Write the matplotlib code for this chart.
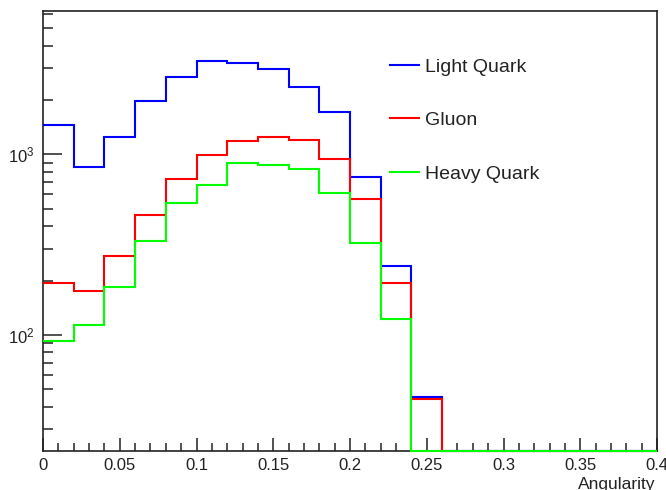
import numpy as np
import matplotlib
matplotlib.use("Agg")
import matplotlib.pyplot as plt
from matplotlib.ticker import FixedLocator, LogLocator, MultipleLocator, NullFormatter

plt.rcParams['font.family'] = ['Liberation Sans', 'DejaVu Sans']
plt.rcParams['mathtext.default'] = 'regular'

# Histogram binning (20 bins of width 0.02 from 0 to 0.4)
bin_edges = np.round(np.arange(0.0, 0.4001, 0.02), 2)

# Bin contents per jet flavour
light_quark = [1452, 854, 1242, 1972, 2687, 3281, 3198, 2979, 2366, 1707,
               747, 242, 45.2, 0, 0, 0, 0, 0, 0, 0]
gluon = [195, 175, 275, 459, 730, 987, 1185, 1242, 1200, 946,
         566, 193, 44, 0, 0, 0, 0, 0, 0, 0]
heavy_quark = [93, 114, 185, 333, 540, 676, 892, 869, 832, 608,
               321, 122, 0, 0, 0, 0, 0, 0, 0, 0]

series = [
    ("Light Quark", light_quark, "#0000ff"),
    ("Gluon", gluon, "#ff0000"),
    ("Heavy Quark", heavy_quark, "#00ff00"),
]

y_min, y_max = 22.8, 6210

fig = plt.figure(figsize=(6.66, 4.90), dpi=100)
ax = fig.add_axes([43 / 666, 1 - 451 / 490, (657 - 43) / 666, (451 - 11) / 490])
ax.set_yscale('log')
ax.set_xlim(0, 0.4)
ax.set_ylim(y_min, y_max)

for label, vals, color in series:
    vals = np.asarray(vals, dtype=float)
    # empty bins sit on the lower frame edge, as in a ROOT histogram
    shown = np.where(vals > 0, vals, y_min)
    ax.stairs(shown, bin_edges, baseline=None, color=color, lw=1.5,
              label=label, clip_on=False, zorder=3)

# x axis ticks
ax.xaxis.set_major_locator(MultipleLocator(0.05))
ax.xaxis.set_minor_locator(MultipleLocator(0.01))
ax.set_xticks(np.round(np.arange(0, 0.4001, 0.05), 2))
ax.set_xticklabels(["0", "0.05", "0.1", "0.15", "0.2", "0.25", "0.3", "0.35", "0.4"])

# y axis ticks
ax.yaxis.set_major_locator(FixedLocator([100, 1000]))
ax.yaxis.set_minor_locator(LogLocator(base=10, subs=np.arange(2, 10)))
ax.yaxis.set_minor_formatter(NullFormatter())
ax.set_yticks([100, 1000])
ax.set_yticklabels([r"$10^{2}$", r"$10^{3}$"])

ax.tick_params(axis='x', which='major', direction='in', length=9.5, width=1.1,
               labelsize=12, pad=5, top=False, colors='#222222')
ax.tick_params(axis='x', which='minor', direction='in', length=5.5, width=1.1, top=False,
               colors='#222222')
ax.tick_params(axis='y', which='major', direction='in', length=14, width=1.1,
               labelsize=12, pad=6, right=False, colors='#222222')
ax.tick_params(axis='y', which='minor', direction='in', length=7, width=1.1, right=False,
               colors='#222222')
for sp in ax.spines.values():
    sp.set_linewidth(1.2)
    sp.set_color('#222222')

ax.set_xlabel("Angularity", fontsize=12.5, color='#222222')
ax.xaxis.set_label_coords(0.9967, -0.058)
ax.xaxis.label.set_horizontalalignment('right')

leg = ax.legend(loc='upper left', bbox_to_anchor=(390 / 666, 1 - 58 / 490),
                bbox_transform=fig.transFigure, frameon=False, fontsize=14,
                handlelength=1.5, handletextpad=0.3, labelspacing=1.85,
                borderpad=0, borderaxespad=0)
for line in leg.get_lines():
    line.set_linewidth(1.5)
for t in leg.get_texts():
    t.set_color('#222222')

fig.savefig("out.png", dpi=100)
